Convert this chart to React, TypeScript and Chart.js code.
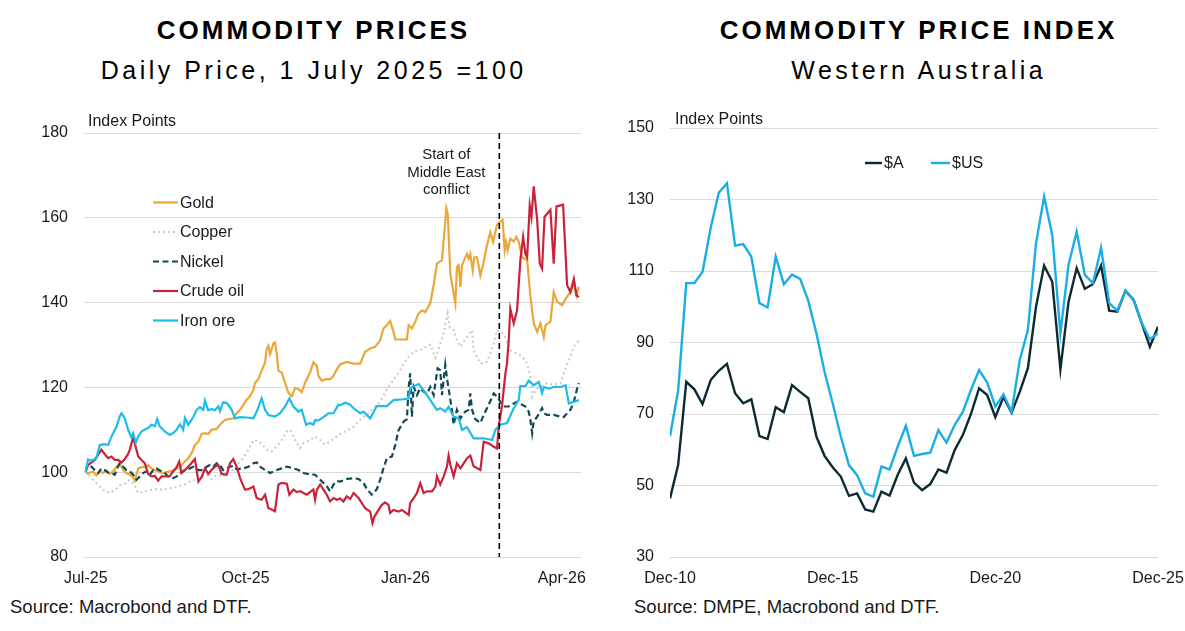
import React, { useEffect, useRef } from "react";
import { Chart, registerables } from "chart.js";

Chart.register(...registerables);

const FONT = '"Liberation Sans", Arial, Helvetica, sans-serif';
const TEXT = "#1a1a1a";
const GRID = "#d9d9d9";

// ---------- Left chart: daily commodity prices (x = days since 1 July 2025) ----------
const leftTickDays = [0, 92, 184, 274];
const leftTickLabels = ["Jul-25", "Oct-25", "Jan-26", "Apr-26"];
const conflictDay = 238;
const conflictText = ["Start of", "Middle East", "conflict"];

const gold: [number, number][] = [
  [0, 100.2], [1.3, 99.6], [4.2, 100.2], [6.1, 99.2], [8.1, 100.2], [10, 99.8], [11.9, 100.4], [13.8, 99.6], [15.8, 100.2], [17.7, 101.3], [19.6, 102.1], [21.5, 100.5], [23.4, 99.8], [25.4, 99.4], [27.3, 98.8], [28.2, 98], [30.2, 100.9], [32.1, 101.2], [35, 101.3], [35.9, 101.7], [37.8, 100.9], [39.8, 100.5], [41.7, 100.2], [43.6, 99.8], [45.5, 99.9], [48.4, 100.2], [51.2, 100.5], [54.2, 101.3], [57.1, 102.5], [59, 103.3], [60.9, 104.5], [62.8, 106.4], [64.8, 107.2], [66.7, 109], [68.6, 109.2], [70.5, 109], [72.4, 110], [75.3, 110.2], [77.2, 111.2], [80.1, 112.3], [82, 112.5], [84.9, 112.7], [86.8, 113.9], [88.8, 114.7], [90.7, 115.9], [92.6, 117.1], [94.5, 117.9], [96.5, 119.4], [97.4, 121.1], [99.3, 121.9], [101.2, 123.9], [103.2, 125.9], [104.1, 129], [105.1, 129.8], [106.1, 127.9], [108, 130.4], [108.9, 130.6], [109.9, 127.9], [110.9, 123.9], [112.8, 123.5], [114.7, 121.1], [116.6, 118.7], [118.6, 117.9], [120.5, 119.9], [122.4, 119.6], [124.3, 118.9], [126.2, 121.1], [129.1, 123.5], [131, 125.9], [133, 125.1], [133.9, 122.7], [135.8, 121.6], [138.7, 122], [140.6, 121.9], [142.6, 122.7], [144.5, 124.3], [146.4, 125.4], [150.2, 126], [154.1, 125.6], [157.9, 125.6], [160.8, 128.4], [163.7, 129.2], [166.6, 129.6], [169.4, 131.1], [171.3, 133.9], [173.3, 134.7], [175.2, 135.7], [177.1, 133.1], [178.1, 131.3], [184.8, 131.3], [185.8, 134.7], [187.7, 133.9], [189.6, 135.5], [191.5, 137.4], [193.5, 138.2], [195.4, 137.8], [198.3, 139.9], [200.2, 144.1], [202.1, 149.2], [205, 150], [207.5, 162.3], [208.3, 161], [209.8, 146.8], [212.7, 139.8], [213.6, 148.4], [214.6, 148.8], [215.6, 143.7], [216.5, 148.8], [219.4, 151.5], [220.4, 150.4], [221.3, 151.5], [222.7, 147.6], [223.6, 150.7], [225.2, 150.7], [227.1, 146.4], [229, 149.6], [230.9, 153.5], [232.8, 156.6], [234.4, 154.3], [236.7, 158.4], [238.2, 159], [239.9, 159.5], [241.1, 152.3], [241.9, 154.3], [242.8, 152.3], [244.3, 155.1], [246.3, 154.4], [247.8, 155.5], [249.2, 154.3], [251.1, 150.7], [254, 150], [255.9, 141.4], [257.8, 135.1], [259.8, 133.1], [261.7, 135.1], [263.6, 131.9], [264.6, 134.7], [267.4, 135.5], [269.3, 142.5], [271.3, 140.2], [274.1, 139.4], [277, 141.4], [278.9, 142.5], [280.9, 144.5], [282.4, 141.7], [283.8, 143.7],
];

const copper: [number, number][] = [
  [0, 100.2], [2.3, 99], [5.2, 97.8], [8.1, 96.6], [10.9, 95.6], [13.8, 95.1], [16.7, 95.8], [19.6, 96.9], [22.5, 97.3], [25.4, 98.2], [28.2, 96.9], [30.2, 95.1], [33, 95.4], [36.9, 95.8], [40.7, 96], [44.6, 95.8], [48.4, 96.2], [52.3, 96.6], [56.1, 96.9], [59.9, 97.8], [62.8, 98.2], [66.7, 99], [69.6, 99.4], [72.4, 98.4], [75.3, 99.4], [79.1, 99], [82, 100.2], [84.9, 100.5], [87.8, 102.1], [90.7, 103.3], [93.6, 105.3], [96.5, 107.6], [99.3, 107.3], [101.8, 106.5], [104.1, 105.3], [107, 104.9], [109.9, 106.1], [112.8, 107.6], [115.7, 109.6], [117.6, 110], [120.5, 107.6], [123.3, 105.7], [125.3, 106.8], [129.1, 107.6], [132, 108.4], [134.9, 107.6], [137.8, 106.5], [140.6, 107.3], [143.5, 108.1], [146.4, 109], [150.2, 109.8], [154.1, 110.7], [157.9, 112.4], [161.8, 113.5], [165.6, 115.2], [169.4, 116.6], [173.3, 119.6], [177.1, 121.8], [181, 124.1], [184.8, 126.8], [188.7, 128.4], [192.5, 128.8], [198.3, 130.1], [201.2, 127], [204, 130.1], [206, 133], [208.3, 137.5], [209.5, 134], [211.7, 133.5], [213.6, 131.1], [215.6, 129.6], [219.4, 131.9], [222.3, 133.5], [223.2, 128.8], [227.1, 125.6], [230.9, 126], [234.8, 130.4], [236.7, 133.5], [240.5, 132.7], [244.3, 128.8], [248.2, 128], [251.1, 127.3], [254, 125.6], [255.9, 122.5], [256.9, 117.8], [257.8, 118.6], [259.8, 119.8], [261.7, 120.2], [265.5, 121], [269.3, 120.6], [273.2, 121], [275.1, 123.3], [277, 125.6], [278.9, 127.2], [280.9, 129.6], [283.8, 131.1],
];

const nickel: [number, number][] = [
  [0, 100.2], [1.3, 101.7], [3.3, 101.3], [5.2, 100.5], [7.1, 99.8], [9, 100.9], [10.9, 100.5], [12.9, 99.9], [14.8, 99.8], [16.7, 99.4], [18.6, 101.3], [19.6, 102.1], [21.5, 101.3], [23.4, 100.5], [25.4, 100.2], [27.3, 99.4], [29.2, 98.2], [31.1, 99], [33, 99.8], [35, 100.2], [36.9, 99.4], [38.8, 100.5], [40.7, 100.9], [42.6, 100.4], [44.6, 100.2], [47.5, 99], [50.3, 98.6], [52.3, 99], [54.2, 99.8], [57.1, 100.5], [59.9, 100.9], [61.9, 101.3], [64.8, 100.5], [67.6, 100.5], [69.6, 101.3], [71.5, 101.7], [73.4, 101.3], [75.3, 102.1], [77.2, 101.7], [79.1, 100.5], [81.1, 100.9], [83, 101.3], [84.9, 101.5], [86.8, 100.7], [90.7, 100.9], [93.6, 101.3], [96.5, 102.1], [98.4, 102.3], [100.3, 101.3], [103.2, 100.5], [106.1, 99.8], [109.9, 100.5], [112.8, 100.9], [115.7, 101.3], [119.5, 100.9], [122.4, 100.5], [125.3, 99.8], [129.1, 99.5], [132, 99.4], [134.9, 98.2], [138.7, 96.7], [140.6, 95.5], [142.6, 97.1], [144.5, 97.9], [146.4, 97.8], [150.2, 98.4], [154.1, 98.6], [157, 98.4], [159.8, 97.5], [161.8, 96], [164.6, 94.7], [167.5, 96], [169.4, 98.2], [171.3, 100.9], [173.3, 103.3], [176.2, 103.7], [178.1, 106.4], [180, 109.9], [182.9, 111.9], [184.8, 112.5], [185.8, 119.8], [186.7, 123.3], [187.7, 113.1], [188.7, 120.1], [190.6, 118.2], [192.5, 119.8], [194.4, 119], [196.4, 118.6], [198.3, 120.1], [200.2, 118.2], [202.5, 124.5], [204, 124.1], [205, 118.2], [206.9, 125.3], [207.9, 122.1], [208.8, 119.8], [210.7, 114.7], [211.7, 111.2], [213.6, 114.7], [215.6, 112.7], [218.4, 114.3], [220.4, 114.7], [221.3, 118.6], [222.3, 114.7], [224.2, 112.5], [227.1, 111.6], [229, 113.5], [231.9, 115.9], [234.8, 118.6], [236.7, 117.8], [238.6, 116.6], [240.5, 115.5], [243.4, 115.5], [246.3, 116.2], [248.2, 116.6], [251.1, 115.9], [253, 115.5], [254.9, 114.3], [255.9, 112.3], [256.9, 109.2], [257.8, 112], [259.8, 113.1], [262.6, 115.1], [263.6, 113.9], [265.5, 113.5], [269.3, 113.5], [273.2, 113.1], [275.1, 113], [277, 113.9], [278.9, 114.7], [280.9, 116.6], [282.8, 119.8], [283.8, 121],
];

const crudeOil: [number, number][] = [
  [0, 100.9], [1.3, 101.7], [3.3, 102.3], [5.2, 102.9], [7.1, 104.1], [9, 105.3], [10.9, 104.3], [12.9, 103.3], [14.8, 103.7], [16.7, 102.9], [18.6, 102.9], [20.6, 102.3], [22.5, 103.1], [24.4, 104.3], [25.4, 105.4], [27.3, 108.2], [28.2, 106.8], [30.2, 103.7], [32.1, 102.9], [34, 102.1], [35.9, 99.6], [37.8, 99], [39.8, 99.1], [41.7, 98], [43.6, 99], [46.5, 99], [48.4, 99.1], [50.3, 100.2], [52.3, 101.2], [53.8, 102.5], [55.1, 99.8], [57.1, 100.5], [59.9, 101.7], [62.8, 103.1], [64.8, 97.8], [66.7, 98.9], [68.6, 100.9], [70.5, 99.6], [72.4, 100.5], [74.3, 101.3], [76.3, 101.7], [78.2, 99.6], [81.1, 99.4], [83, 102.1], [84.9, 103.1], [86.8, 101.4], [88.8, 98.6], [91.6, 95.9], [93.6, 96], [96.5, 96.6], [98.4, 93.9], [101.2, 93.5], [103.2, 94.7], [105.1, 91.5], [107, 91.2], [108.9, 90.8], [110.9, 97.1], [112.8, 97.5], [115.7, 97.3], [117.2, 94.7], [119.5, 95.9], [121.4, 95.3], [123.3, 95.5], [127.2, 94.7], [131, 95.9], [132, 93.5], [133, 95.9], [134.9, 97.1], [136.8, 95.9], [138.7, 94.7], [140.6, 93.1], [142.6, 93.9], [144.5, 93.5], [146.4, 93.8], [148.3, 93.1], [150.2, 94.3], [152.2, 93.7], [154.1, 95.1], [157, 93.9], [158.9, 92.7], [160.8, 91.5], [163.7, 90.7], [165, 88], [166.2, 89.6], [168.5, 91.1], [170.4, 92.3], [172.3, 92.9], [174.2, 92.3], [175.2, 90.4], [177.1, 91.1], [180, 90.7], [181.9, 91.1], [183.9, 90.5], [185.8, 89.9], [186.7, 92.7], [188.7, 93.9], [190.6, 95.1], [192.5, 97.4], [194.4, 95.1], [196.4, 95.5], [199.3, 95.5], [201.2, 96.6], [202.1, 99], [204, 97.1], [206, 99], [207.9, 101.4], [208.8, 103.9], [209.8, 101.8], [211.7, 99], [213.6, 102.1], [215.6, 100.9], [217.5, 102.1], [219.4, 103.3], [221.3, 103.9], [223.2, 101.4], [227.1, 100.5], [229, 107.2], [231.9, 106.8], [234.8, 106], [236.7, 105.6], [237.6, 110.7], [239.6, 115.8], [241.5, 123.3], [242.4, 125.6], [243.4, 131], [244.3, 138.6], [246.3, 135.1], [248.2, 138.2], [250.1, 150], [251.7, 155.5], [253, 151.5], [254, 150.7], [255.5, 162.9], [256.5, 160.2], [257.8, 167.4], [259.8, 159.4], [261.3, 149.2], [262.6, 148], [264, 160.2], [267.4, 161.9], [269.3, 149.2], [270.9, 162.7], [274.7, 163.1], [277, 144.1], [278.9, 142.5], [280.9, 145.6], [282.4, 141.7], [283.8, 141.3],
];

const ironOre: [number, number][] = [
  [0, 100], [1.3, 103], [3.3, 102.7], [6.1, 103.3], [8.1, 106.4], [10.9, 106.6], [12.9, 106.4], [14.8, 108.4], [17.7, 110.7], [19.6, 113.2], [20.6, 113.9], [22.5, 112.7], [24.4, 110], [26.3, 108.2], [27.3, 109.2], [28.8, 107], [30.2, 108.4], [32.1, 109.6], [34, 110.1], [35.9, 110.4], [37.8, 111.2], [39.8, 110.9], [41.1, 112.5], [42.6, 110.8], [45.5, 109.6], [48.4, 108.8], [50.3, 109.2], [52.3, 110], [54.2, 111.3], [56.1, 110], [57.1, 112.8], [59, 111.2], [61.9, 113], [63.8, 114.7], [65.7, 115.4], [67.6, 114.7], [68.6, 116.9], [70.5, 114.6], [72.4, 114.9], [74.3, 114.6], [76.3, 115.5], [77.2, 114.4], [79.1, 116.5], [81.1, 116.3], [82, 115.9], [84, 114.7], [85.9, 112.7], [88.8, 113], [92.6, 112.9], [96.5, 112.7], [98.4, 114.3], [101.2, 117.4], [103.2, 114.7], [105.1, 113.5], [108.9, 113.1], [111.8, 113.9], [114.7, 115.5], [117.2, 117.4], [119.5, 115.5], [122.4, 114.3], [124.3, 114.7], [126.8, 111.2], [129.1, 111.6], [131, 111.2], [132, 112.3], [133.9, 112.2], [136.8, 113], [139.7, 113.9], [142.6, 113.9], [145.4, 115.9], [146.4, 115.8], [149.3, 116.4], [152.2, 115.9], [154.1, 115.1], [157.9, 113.9], [159.8, 114.3], [163.7, 112.7], [167.5, 115.6], [173.3, 115.6], [177.1, 117], [182.9, 117.2], [185.8, 117.4], [186.7, 119.8], [188.7, 120.3], [191.6, 120.8], [193.5, 119.8], [196.4, 118.2], [200.2, 115.8], [202.1, 114.7], [204, 115.1], [206.9, 114.3], [208.8, 115.4], [211.7, 113.1], [214.6, 112.7], [216.5, 110], [219.4, 110.6], [223.2, 108], [229, 108], [233.8, 107.6], [235.7, 110], [238.6, 111.2], [242.4, 111.6], [246.3, 115.1], [249.2, 117.1], [250.1, 120.3], [253, 120.3], [254.9, 121.6], [257.8, 120.5], [260.7, 121.3], [262.6, 118.7], [263.6, 120.1], [266.5, 119.7], [269.3, 120.1], [273.2, 120.1], [276.1, 120.5], [278, 116.2], [280.9, 116.6], [283.8, 117],
];

// ---------- Right chart: quarterly WA commodity price index, Dec-10 .. Dec-25 ----------
const rightTickIdx = [0, 20, 40, 60];
const rightTickLabels = ["Dec-10", "Dec-15", "Dec-20", "Dec-25"];

const audIndex = [
  46.4, 55.7, 79, 76.9, 72.8, 79.5, 82.1, 84, 75.8, 73, 74.1, 63.8, 63, 71.9, 70.5, 78.1, 76.2, 74.4, 63.7, 58.3,
  55.1, 52.5, 47.1, 47.8, 43.3, 42.7, 48.3, 47.2, 53, 57.6, 50.8, 48.7, 50.4, 54.5, 53.6, 59.9, 64.1, 70, 77.2, 75.3,
  69.1, 74.8, 70.4, 76.2, 82.8, 100, 111.5, 107, 82.5, 101.4, 110.8, 105, 106.3, 111.5, 98.9, 98.6, 104.5, 101.9, 95.4, 88.8,
  94.4,
];
const usdIndex = [
  63.8, 76.5, 106.6, 106.6, 109.8, 122, 131.9, 134.5, 117.1, 117.5, 114, 101, 99.8, 114, 106.3, 109, 107.8, 101.7, 92.6, 81.8,
  73, 63.7, 55.7, 52.9, 47.8, 46.9, 55.3, 54.5, 60.9, 66.7, 58.3, 58.8, 59.2, 65.5, 62, 66.9, 70.6, 76.7, 82.3, 78.8,
  72.1, 75.5, 70.6, 85.1, 93.5, 117.7, 130.8, 120, 92.6, 111.7, 121, 108.9, 106.6, 116.5, 101, 98.9, 104.5, 101.9, 95.5, 90.9,
  92.6,
];

const pairsToXY = (arr: [number, number][]) => arr.map(([x, y]) => ({ x, y }));
const listToXY = (arr: number[]) => arr.map((y, i) => ({ x: i, y }));

const tickFont = { family: FONT, size: 16 };

function drawLegendRow(ctx: CanvasRenderingContext2D, x0: number, x1: number, y: number, ds: any, label: string) {
  ctx.save();
  ctx.strokeStyle = ds.borderColor;
  ctx.lineWidth = ds.borderWidth;
  ctx.setLineDash(ds.borderDash || []);
  ctx.beginPath();
  ctx.moveTo(x0, y);
  ctx.lineTo(x1, y);
  ctx.stroke();
  ctx.setLineDash([]);
  ctx.fillStyle = TEXT;
  ctx.font = `16px ${FONT}`;
  ctx.textAlign = "left";
  ctx.textBaseline = "middle";
  ctx.fillText(label, x1 + 2, y + 1);
  ctx.restore();
}

const leftOverlay = {
  id: "leftOverlay",
  afterDatasetsDraw(chart: any) {
    const ctx = chart.ctx as CanvasRenderingContext2D;
    const area = chart.chartArea;
    const xs = chart.scales.x;
    const cx = xs.getPixelForValue(conflictDay);
    ctx.save();
    ctx.strokeStyle = "#000";
    ctx.lineWidth = 1.6;
    ctx.setLineDash([6, 4]);
    ctx.beginPath();
    ctx.moveTo(cx, area.top);
    ctx.lineTo(cx, area.bottom);
    ctx.stroke();
    ctx.setLineDash([]);
    ctx.fillStyle = TEXT;
    ctx.font = `15px ${FONT}`;
    ctx.textAlign = "center";
    ctx.textBaseline = "middle";
    conflictText.forEach((t, i) => ctx.fillText(t, cx - 53, 45 + i * 17.5));
    ctx.textAlign = "left";
    ctx.font = `16px ${FONT}`;
    ctx.fillText("Index Points", 88, 12);
    ctx.restore();
    chart.data.datasets.forEach((ds: any, i: number) => {
      drawLegendRow(ctx, 153, 178, 92.5 + i * 29.5, ds, ds.label);
    });
  },
};

const rightOverlay = {
  id: "rightOverlay",
  afterDatasetsDraw(chart: any) {
    const ctx = chart.ctx as CanvasRenderingContext2D;
    ctx.save();
    ctx.fillStyle = TEXT;
    ctx.font = `16px ${FONT}`;
    ctx.textAlign = "left";
    ctx.textBaseline = "middle";
    ctx.fillText("Index Points", 75, 10);
    ctx.restore();
    const ds = chart.data.datasets;
    drawLegendRow(ctx, 265, 282, 53, ds[0], ds[0].label);
    drawLegendRow(ctx, 331, 350, 53, ds[1], ds[1].label);
  },
};

const fixXAxis = (s: any) => {
  s.height = 33;
  s.paddingLeft = 0;
  s.paddingRight = 0;
};
const fixYAxis = (width: number) => (s: any) => {
  s.width = width;
  s.paddingTop = 0;
  s.paddingBottom = 0;
};

function LeftChart() {
  const ref = useRef<HTMLCanvasElement | null>(null);
  useEffect(() => {
    if (!ref.current) return;
    const chart = new Chart(ref.current, {
      type: "line",
      data: {
        datasets: [
          { label: "Gold", data: pairsToXY(gold), borderColor: "#EAA73A", borderWidth: 2.2, order: 3 },
          { label: "Copper", data: pairsToXY(copper), borderColor: "#C9C9C9", borderWidth: 2, borderDash: [2, 3], order: 4 },
          { label: "Nickel", data: pairsToXY(nickel), borderColor: "#0E4A58", borderWidth: 2.2, borderDash: [6, 3.5], order: 2 },
          { label: "Crude oil", data: pairsToXY(crudeOil), borderColor: "#C8233A", borderWidth: 2.2, order: 1 },
          { label: "Iron ore", data: pairsToXY(ironOre), borderColor: "#1CBDEB", borderWidth: 2.2, order: 0 },
        ] as any,
      },
      options: {
        animation: false,
        responsive: false,
        maintainAspectRatio: false,
        layout: { padding: { top: 23, right: 19, left: 0, bottom: 0 } },
        elements: { point: { radius: 0 }, line: { tension: 0, fill: false } },
        plugins: { legend: { display: false }, tooltip: { enabled: false }, title: { display: false } },
        scales: {
          x: {
            type: "linear",
            min: -1,
            max: 285,
            grid: { display: false },
            border: { display: false },
            afterBuildTicks: (s: any) => {
              s.ticks = leftTickDays.map((v) => ({ value: v }));
            },
            afterFit: fixXAxis,
            ticks: {
              autoSkip: false,
              maxRotation: 0,
              padding: 4,
              color: TEXT,
              font: tickFont,
              callback: (v: any) => {
                const k = leftTickDays.indexOf(Number(v));
                return k >= 0 ? leftTickLabels[k] : "";
              },
            },
          },
          y: {
            min: 80,
            max: 180,
            grid: { color: GRID, lineWidth: 1, drawTicks: false },
            border: { display: false },
            afterFit: fixYAxis(84),
            ticks: { stepSize: 20, padding: 16, color: TEXT, font: tickFont },
          },
        },
      } as any,
      plugins: [leftOverlay],
    });
    return () => chart.destroy();
  }, []);
  return <canvas ref={ref} width={600} height={480} style={{ position: "absolute", left: 0, top: 110, width: 600, height: 480 }} />;
}

function RightChart() {
  const ref = useRef<HTMLCanvasElement | null>(null);
  useEffect(() => {
    if (!ref.current) return;
    const chart = new Chart(ref.current, {
      type: "line",
      data: {
        datasets: [
          { label: "$A", data: listToXY(audIndex), borderColor: "#0D2A32", borderWidth: 2.4, order: 1 },
          { label: "$US", data: listToXY(usdIndex), borderColor: "#1AAEE6", borderWidth: 2.4, order: 0 },
        ] as any,
      },
      options: {
        animation: false,
        responsive: false,
        maintainAspectRatio: false,
        layout: { padding: { top: 18, right: 27, left: 0, bottom: 0 } },
        elements: { point: { radius: 0 }, line: { tension: 0, fill: false } },
        plugins: { legend: { display: false }, tooltip: { enabled: false }, title: { display: false } },
        scales: {
          x: {
            type: "linear",
            min: 0,
            max: 60,
            grid: { display: false },
            border: { display: false },
            afterBuildTicks: (s: any) => {
              s.ticks = rightTickIdx.map((v) => ({ value: v }));
            },
            afterFit: fixXAxis,
            ticks: {
              autoSkip: false,
              maxRotation: 0,
              padding: 4,
              color: TEXT,
              font: tickFont,
              callback: (v: any) => {
                const k = rightTickIdx.indexOf(Number(v));
                return k >= 0 ? rightTickLabels[k] : "";
              },
            },
          },
          y: {
            min: 30,
            max: 150,
            grid: { color: GRID, lineWidth: 1, drawTicks: false },
            border: { display: false },
            afterFit: fixYAxis(70),
            ticks: { stepSize: 20, padding: 16, color: TEXT, font: tickFont },
          },
        },
      } as any,
      plugins: [rightOverlay],
    });
    return () => chart.destroy();
  }, []);
  return <canvas ref={ref} width={585} height={480} style={{ position: "absolute", left: 600, top: 110, width: 585, height: 480 }} />;
}

const titleStyle = (left: number, width: number, top: number, size: number, bold: boolean, ls: number): React.CSSProperties => ({
  position: "absolute",
  left,
  width,
  top,
  height: 30,
  lineHeight: "30px",
  textAlign: "center",
  fontFamily: FONT,
  fontSize: size,
  fontWeight: bold ? 700 : 400,
  letterSpacing: ls,
  paddingLeft: ls,
  boxSizing: "border-box",
  color: "#000",
  whiteSpace: "nowrap",
});

export default function App() {
  return (
    <div style={{ position: "fixed", left: 0, top: 0, width: 1185, height: 631, background: "#fff", overflow: "hidden" }}>
      <div style={titleStyle(0, 624, 15, 26, true, 3)}>COMMODITY PRICES</div>
      <div style={titleStyle(0, 624, 55, 25, false, 3.5)}>Daily Price, 1 July 2025 =100</div>
      <div style={titleStyle(650, 534, 15, 26, true, 3)}>COMMODITY PRICE INDEX</div>
      <div style={titleStyle(650, 534, 55, 25, false, 3.5)}>Western Australia</div>
      <LeftChart />
      <RightChart />
      <div style={{ position: "absolute", left: 10, top: 595, lineHeight: "24px", fontFamily: FONT, fontSize: 18.5, color: TEXT, whiteSpace: "nowrap" }}>
        Source: Macrobond and DTF.
      </div>
      <div style={{ position: "absolute", left: 634, top: 595, lineHeight: "24px", fontFamily: FONT, fontSize: 18.5, color: TEXT, whiteSpace: "nowrap" }}>
        Source: DMPE, Macrobond and DTF.
      </div>
    </div>
  );
}
